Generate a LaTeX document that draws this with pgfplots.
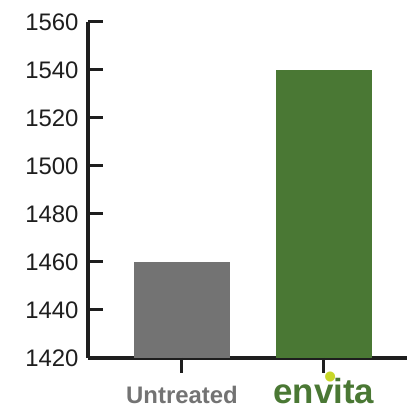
\documentclass[border=0pt]{standalone}
\usepackage{pgfplots}
\pgfplotsset{compat=1.18}
\usepackage{fontspec}
\setmainfont{Liberation Sans}

\definecolor{barGray}{RGB}{115,115,115}
\definecolor{envGreen}{RGB}{74,120,52}
\definecolor{envLime}{RGB}{200,215,40}
\definecolor{axisInk}{RGB}{30,30,30}

\begin{document}
\begin{tikzpicture}[line width=3bp]
\path[use as bounding box] (0,0) rectangle (407bp,408bp);
\begin{axis}[
    at={(88bp,50bp)}, anchor=south west,
    scale only axis,
    width=319bp, height=336bp,
    xmin=-0.662, xmax=1.585,
    ymin=1420, ymax=1560,
    ytick={1420,1440,...,1560},
    xtick={0,1},
    xticklabels={{\textcolor{barGray}{\bfseries Untreated}},
                 {\fontsize{35}{38}\selectfont\textcolor{envGreen}{\bfseries en\rlap{\raisebox{0.42em}{\kern0.3em\textcolor{envLime}{\textbullet}}}vita}}},
    axis x line*=bottom, axis y line*=left,
    axis line style={-, line width=3bp, draw=axisInk},
    tick align=inside,
    major tick length=15bp,
    major tick style={line width=3bp, draw=axisInk},
    xtick style={draw=none},
    tick label style={font=\fontsize{24}{28}\selectfont},
    yticklabel style={xshift=-6bp, text=axisInk},
    xticklabel style={anchor=base, yshift=-30bp},
    /pgf/number format/assume math mode=true,
    /pgf/number format/1000 sep={},
    ybar, bar width=0.676, bar shift=0pt,
    clip=false,
]
\addplot[draw=none, fill=barGray] coordinates {(0,1460)};
\addplot[draw=none, fill=envGreen] coordinates {(1,1540)};
\draw[line width=3bp, draw=axisInk] (axis cs:0,1420) -- ([yshift=-15bp]axis cs:0,1420);
\draw[line width=3bp, draw=axisInk] (axis cs:1,1420) -- ([yshift=-15bp]axis cs:1,1420);
\end{axis}
\end{tikzpicture}
\end{document}
